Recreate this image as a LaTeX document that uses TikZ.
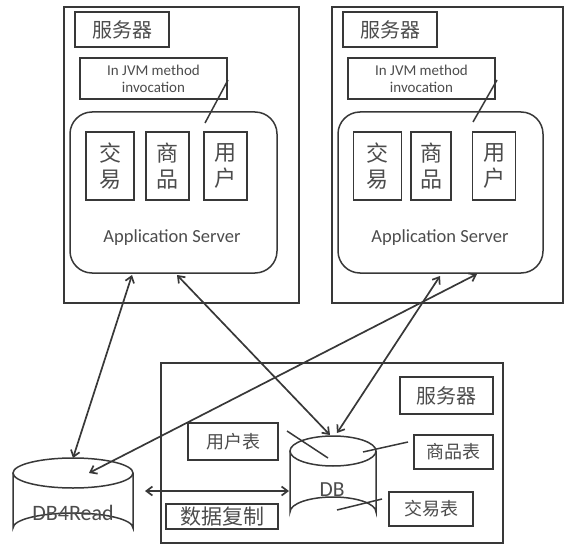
\documentclass[tikz,border=0pt]{standalone}
\usepackage{fontspec}
\setmainfont{Carlito}
\newfontfamily\cjk{Noto Sans CJK SC}
\usetikzlibrary{arrows.meta}
\definecolor{ln}{HTML}{383838}
\definecolor{tx}{HTML}{4C4C4C}
\tikzset{
  box/.style={draw=ln, line width=1.5pt, inner sep=0pt, text=tx},
  lbl/.style={box, font=\cjk\fontsize{20}{24}\selectfont},
  tbl/.style={box, font=\cjk\fontsize{18}{22}\selectfont},
  jvm/.style={box, font=\fontsize{15}{17}\selectfont, align=center},
  app/.style={box, rounded corners=22pt},
  mod/.style={box, font=\cjk\fontsize{22}{26}\selectfont, align=center, minimum height=68pt},
  plain/.style={inner sep=0pt, text=tx},
  ptr/.style={draw=ln, line width=1.5pt},
  dbl/.style={draw=ln, line width=1.7pt, {Straight Barb[length=6pt,width=9pt]}-{Straight Barb[length=6pt,width=9pt]}},
  cyl/.style={draw=ln, line width=1.5pt}
}
\begin{document}
\begin{tikzpicture}[x=1pt,y=-1pt]
\useasboundingbox (0,0) rectangle (570,548);
% left server
\node[box, minimum width=235pt, minimum height=296pt] (Louter) at (181.5,155) {};
\node[lbl, minimum width=94pt, minimum height=35pt] (Llbl) at (122,29.5) {服务器};
\node[jvm, minimum width=147pt, minimum height=41pt] (Ljvm) at (153.5,78.5) {In JVM method\\invocation};
\node[app, minimum width=207pt, minimum height=161pt] (Lapp) at (173.5,192.5) {};
\node[mod, minimum width=48pt] (Ljy) at (110,166) {交\\易};
\node[mod, minimum width=43pt] (Lsp) at (167.5,166) {商\\品};
\node[mod, minimum width=43pt] (Lyh) at (225.5,166) {用\\户};
\node[plain, font=\fontsize{18.5}{22}\selectfont] (Lastext) at (172,238) {Application Server};
\coordinate (Lp1) at (205,123); \coordinate (Lp2) at (228,80);
\draw[ptr] (Lp1) -- (Lp2);
% right server
\node[box, minimum width=231pt, minimum height=296pt] (Router) at (447.5,155) {};
\node[lbl, minimum width=94pt, minimum height=35pt] (Rlbl) at (390,29.5) {服务器};
\node[jvm, minimum width=147pt, minimum height=41pt] (Rjvm) at (421.5,78.5) {In JVM method\\invocation};
\node[app, minimum width=205pt, minimum height=161pt] (Rapp) at (440.5,192.5) {};
\node[mod, minimum width=48pt] (Rjy) at (377.5,166) {交\\易};
\node[mod, minimum width=40pt] (Rsp) at (431,166) {商\\品};
\node[mod, minimum width=43pt] (Ryh) at (494,166) {用\\户};
\node[plain, font=\fontsize{18.5}{22}\selectfont] (Rastext) at (440,238) {Application Server};
\coordinate (Rp1) at (473,122); \coordinate (Rp2) at (497,80);
\draw[ptr] (Rp1) -- (Rp2);
% bottom server
\node[box, minimum width=342pt, minimum height=180pt] (Bouter) at (332,453) {};
\node[lbl, minimum width=93pt, minimum height=37pt] (Blbl) at (446.5,395.5) {服务器};
\node[tbl, minimum width=79pt, minimum height=34pt] (spb) at (453.5,452) {商品表};
\node[tbl, minimum width=84pt, minimum height=34pt] (jyb) at (431,509) {交易表};
\node[tbl, minimum width=90pt, minimum height=37pt] (yhb) at (233,441.5) {用户表};
\node[box, font=\cjk\fontsize{21}{24}\selectfont, minimum width=112pt, minimum height=25pt] (sjfz) at (222,516.5) {数据复制};
% DB cylinder
\draw[cyl, fill=white] (290,451) -- (290,512) arc[start angle=180, end angle=360, x radius=43, y radius=15] -- (376,451);
\draw[cyl] (333,451) ellipse [x radius=43, y radius=15];
\node[plain, font=\fontsize{21.5}{24}\selectfont] (DB) at (332,490) {DB};
% DB4Read cylinder
\draw[cyl, fill=white] (13,473) -- (13,528) arc[start angle=180, end angle=360, x radius=60, y radius=15] -- (133,473);
\draw[cyl] (73,473) ellipse [x radius=60, y radius=15];
\node[plain, font=\fontsize{22}{24}\selectfont] (DBR) at (73,513) {DB4Read};
% pointers
\coordinate (yb1) at (287,431); \coordinate (yb2) at (328,458);
\draw[ptr] (yb1) -- (yb2);
\coordinate (sb1) at (408,442); \coordinate (sb2) at (363,452);
\draw[ptr] (sb1) -- (sb2);
\coordinate (jb1) at (382,499); \coordinate (jb2) at (337,510);
\draw[ptr] (jb1) -- (jb2);
% connectors
\coordinate (La1) at (132,275); \coordinate (Rt1) at (73,458);
\coordinate (La2) at (177,275); \coordinate (Dt1) at (330,435);
\coordinate (Ra1) at (440,276); \coordinate (Dt2) at (337,433);
\coordinate (Ra2) at (477,274); \coordinate (Rt2) at (89,473);
\coordinate (Rr) at (145,491); \coordinate (Dl) at (289,491);
\draw[dbl] (La1) -- (Rt1);
\draw[dbl] (La2) -- (Dt1);
\draw[dbl] (Ra1) -- (Dt2);
\draw[dbl] (Ra2) -- (Rt2);
\draw[dbl] (Rr) -- (Dl);
\end{tikzpicture}
\end{document}
